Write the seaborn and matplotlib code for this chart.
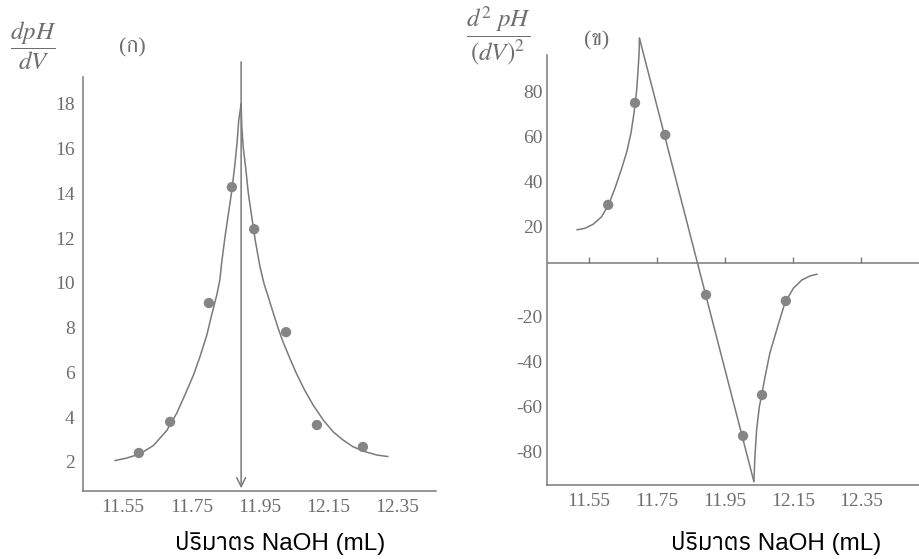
import matplotlib
matplotlib.use("Agg")
import matplotlib.pyplot as plt
import matplotlib.transforms as mtransforms
import seaborn as sns

# (ก) first derivative dpH/dV
first_x = [11.597, 11.688, 11.801, 11.868, 11.933, 12.026, 12.116, 12.250]
first_y = [2.40, 3.79, 9.10, 14.28, 12.40, 7.80, 3.65, 2.67]
first_left_x = [11.527, 11.561, 11.600, 11.639, 11.678, 11.707, 11.731, 11.756, 11.775, 11.795,
                11.809, 11.824, 11.833, 11.838, 11.848, 11.858, 11.868, 11.876, 11.883, 11.888, 11.895]
first_left_y = [2.06, 2.17, 2.36, 2.73, 3.40, 4.17, 4.99, 5.88, 6.70, 7.67,
                8.56, 9.46, 10.13, 10.87, 12.06, 13.10, 14.14, 15.18, 16.23, 17.27, 18.00]
first_right_x = [11.895, 11.897, 11.901, 11.909, 11.916, 11.926, 11.936, 11.950, 11.962, 11.974,
                 11.989, 12.003, 12.017, 12.037, 12.056, 12.080, 12.105, 12.134, 12.163, 12.192,
                 12.221, 12.256, 12.290, 12.323]
first_right_y = [18.00, 16.97, 16.08, 15.04, 14.00, 12.95, 11.91, 10.72, 9.95, 9.38,
                 8.64, 7.97, 7.37, 6.63, 5.96, 5.21, 4.54, 3.88, 3.35, 2.98,
                 2.68, 2.46, 2.31, 2.24]
end_point = 11.895

# (ข) second derivative d2pH/dV2
second_x = [11.606, 11.685, 11.774, 11.894, 12.003, 12.059, 12.129]
second_y = [25.8, 71.1, 56.9, -14.2, -76.9, -58.7, -16.9]
rise_x = [11.514, 11.538, 11.563, 11.587, 11.607, 11.626, 11.646, 11.661, 11.673, 11.682,
          11.690, 11.694, 11.697, 11.698]
rise_y = [14.7, 15.4, 17.3, 20.6, 25.8, 33.2, 42.1, 49.5, 57.6, 66.5,
          76.9, 85.8, 93.2, 99.9]
drop_x = [11.698, 12.035]
drop_y = [99.9, -97.2]
recover_x = [12.035, 12.038, 12.043, 12.051, 12.058, 12.068, 12.082, 12.102, 12.126, 12.151,
             12.176, 12.200, 12.221]
recover_y = [-97.2, -86.1, -74.2, -63.9, -58.7, -50.5, -40.1, -29.8, -17.9, -11.3,
             -7.6, -5.8, -5.0]

x_ticks = [11.55, 11.75, 11.95, 12.15, 12.35]
first_ticks = [2, 4, 6, 8, 10, 12, 14, 16, 18]
second_ticks = [-80, -60, -40, -20, 20, 40, 60, 80]
x_label = "ปริมาตร NaOH (mL)"

sns.set_theme(style="white")
plt.rcParams["mathtext.fontset"] = "stix"
plt.rcParams["axes.unicode_minus"] = False
line_color = "#7a7a7a"
dot_color = "#858585"
text_color = "#6e6e6e"

fig = plt.figure(figsize=(9.2, 5.59), dpi=100)
ax1 = fig.add_axes([0.0902, 0.1216, 0.3837, 0.7406])
ax2 = fig.add_axes([0.5946, 0.1324, 0.4054, 0.7692])

for bx, by in [(first_left_x, first_left_y), (first_right_x, first_right_y)]:
    sns.lineplot(x=bx, y=by, ax=ax1, sort=False, estimator=None, color=line_color, lw=1.1)
sns.scatterplot(x=first_x, y=first_y, ax=ax1, color=dot_color, s=55, edgecolor="none", zorder=3)
ax1.annotate("", xy=(end_point, 0.70), xytext=(end_point, 20.0),
             arrowprops=dict(arrowstyle="->", color=line_color, lw=1.1, mutation_scale=16),
             annotation_clip=False)
ax1.set_xlim(11.434, 12.463)
ax1.set_ylim(0.70, 19.2)
ax1.set_xticks(x_ticks)
ax1.set_yticks(first_ticks)

for bx, by in [(rise_x, rise_y), (drop_x, drop_y), (recover_x, recover_y)]:
    sns.lineplot(x=bx, y=by, ax=ax2, sort=False, estimator=None, color=line_color, lw=1.1)
    ax2.lines[-1].set_clip_on(False)
sns.scatterplot(x=second_x, y=second_y, ax=ax2, color=dot_color, s=55, edgecolor="none", zorder=3)
ax2.axhline(0, color=line_color, lw=1.1)
ax2.plot(x_ticks, [0] * len(x_ticks), ls="none", marker=2, ms=4, color=line_color)
ax2.set_xlim(11.426, 12.524)
ax2.set_ylim(-98.7, 92.4)
ax2.set_xticks(x_ticks)
ax2.set_yticks(second_ticks)

for ax in (ax1, ax2):
    ax.lines[0].set_clip_on(False)
    sns.despine(ax=ax)
    for side in ("left", "bottom"):
        ax.spines[side].set_color(line_color)
        ax.spines[side].set_linewidth(1.1)
    ax.set_xticklabels([f"{v:.2f}" for v in x_ticks])
    for lab in ax.get_xticklabels() + ax.get_yticklabels():
        lab.set_family("Liberation Serif")
        lab.set_fontsize(14)
        lab.set_color(text_color)
    ax.tick_params(direction="in", length=3, color=line_color, pad=6)
ax2.tick_params(axis="x", length=0)
ax2.tick_params(axis="y", pad=3)
# the printed labels of panel (ข) sit a little below their tick marks
shift = mtransforms.ScaledTranslation(0, -0.09, fig.dpi_scale_trans)
for lab in ax2.get_yticklabels():
    lab.set_transform(lab.get_transform() + shift)

label_font = dict(fontsize=17.5, color="black", ha="center", va="center",
                  family=["Liberation Sans", "Anuphan"])
fig.text(280 / 920, 1 - 543 / 559, x_label, **label_font)
fig.text(776 / 920, 1 - 543 / 559, x_label, **label_font)

fig.text(33 / 920, 1 - 46 / 559, r"$\dfrac{dpH}{dV}$", ha="center", va="center", fontsize=18, color=text_color)
fig.text(499 / 920, 1 - 36 / 559, r"$\dfrac{d^2\ pH}{(dV)^2}$", ha="center", va="center", fontsize=18, color=text_color)
tag_font = dict(ha="center", va="center", fontsize=16, color=text_color,
                family=["Liberation Serif", "FreeSerif"])
fig.text(132 / 920, 1 - 48 / 559, "(ก)", **tag_font)
fig.text(597 / 920, 1 - 41 / 559, "(ข)", **tag_font)

fig.savefig("out.png", dpi=100)
